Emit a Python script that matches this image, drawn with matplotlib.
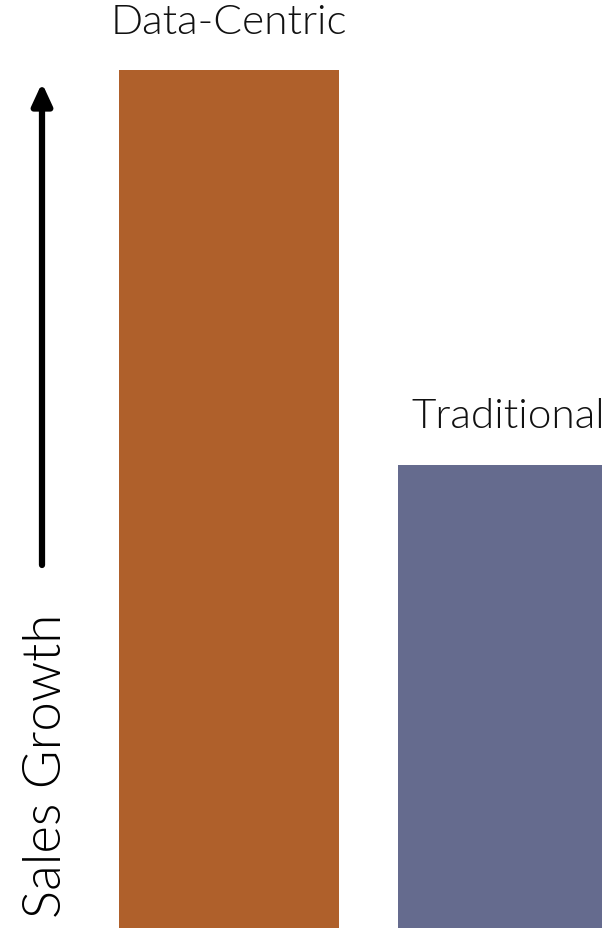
import matplotlib
matplotlib.use("Agg")
import matplotlib.pyplot as plt

categories = ["Data-Centric", "Traditional"]
growth = [100, 54]
colors = ["#AF602B", "#656B8E"]

plt.rcParams['font.family'] = ['Lato', 'DejaVu Sans']

fig = plt.figure(figsize=(6.02, 9.29), dpi=100)
ax = fig.add_axes([0, 0, 1, 1])

x = list(range(len(categories)))
bars = ax.bar(x, growth, width=0.79, color=colors)

for b, name in zip(bars, categories):
    ax.annotate(name, (b.get_x() + b.get_width() / 2, b.get_height()),
                xytext=(0, 22), textcoords="offset points",
                ha="center", va="bottom", fontsize=30.5, fontweight=300,
                color="#111111", annotation_clip=False)

ax.set_xlim(-0.821, 1.337)
ax.set_ylim(0, 108.3)
ax.axis("off")

# axis arrow and label
ax.annotate("", xy=(42, 929 - 84), xytext=(42, 929 - 566),
            xycoords="figure pixels", textcoords="figure pixels",
            arrowprops=dict(arrowstyle="-|>,head_length=1.3,head_width=0.6",
                            lw=4.5, color="black", shrinkA=0, shrinkB=0))
fig.text(47 / 602, 1 - 766 / 929, "Sales Growth", rotation=90,
         ha="center", va="center", fontsize=38, fontweight=300)

fig.savefig("out.png", dpi=100)
